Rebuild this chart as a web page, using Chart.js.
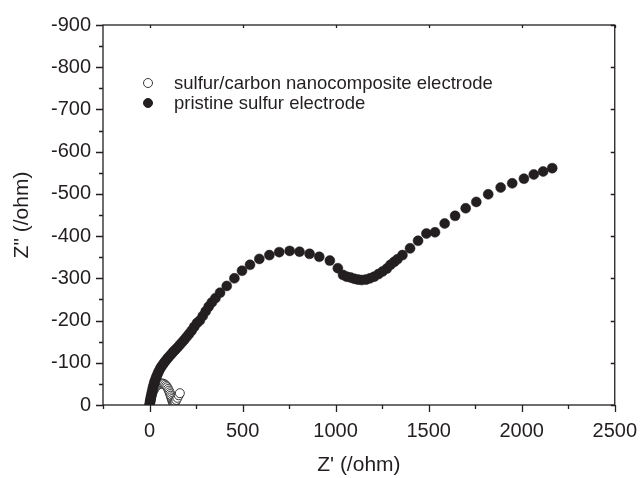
<!DOCTYPE html>
<html>
<head>
<meta charset="utf-8">
<script src="https://cdn.jsdelivr.net/npm/chart.js@4/dist/chart.umd.min.js"></script>
<style>
  html, body { margin: 0; padding: 0; background: #fff; }
  #wrap { width: 643px; height: 478px; }
</style>
</head>
<body>
<div id="wrap"><canvas id="myChart"></canvas></div>
<script>
/* data: [Z', Z''] */
var nanoLabel = 'sulfur/carbon nanocomposite electrode';
var nanoPoints = [
  [2, 0], [4, -8], [8, -16], [12, -23], [17, -30], [23, -36], [30, -41], [38, -45],
  [46, -48], [54, -50], [62, -51], [70, -51], [77, -50], [84, -48], [90, -45],
  [95, -42], [100, -38], [104, -34], [108, -30], [111, -26], [114, -22], [117, -18],
  [120, -14], [123, -10], [126, -7], [129, -5], [132, -4], [135, -5], [139, -8],
  [144, -12], [150, -17], [157, -23], [163, -28]
];
var pristineLabel = 'pristine sulfur electrode';
var pristinePoints = [
  [0, 0], [2, -5], [4, -10], [6, -15], [8, -20], [11, -26], [14, -32], [17, -38],
  [20, -44], [24, -50], [28, -56], [33, -62], [38, -68], [44, -74], [50, -80],
  [57, -86], [64, -91], [72, -96], [80, -101], [89, -106], [98, -111], [108, -116],
  [118, -121], [128, -126], [139, -131], [150, -136], [162, -142], [174, -148],
  [186, -154], [199, -161], [212, -168], [226, -176], [240, -185], [255, -194],
  [270, -200], [286, -211], [302, -222], [318, -233], [335, -243], [354, -253],
  [379, -266], [415, -282], [456, -300], [497, -318], [540, -332], [590, -346],
  [644, -355], [697, -362], [753, -365], [806, -363], [860, -358], [912, -351],
  [969, -342], [1012, -324], [1040, -308], [1060, -304], [1080, -302], [1100, -299],
  [1120, -297], [1140, -296], [1163, -297], [1185, -300], [1207, -304], [1230, -310],
  [1252, -316], [1275, -323], [1295, -332], [1315, -339], [1332, -345], [1359, -355],
  [1400, -371], [1443, -389], [1488, -406], [1534, -409], [1586, -430], [1642, -448],
  [1699, -466], [1756, -481], [1820, -499], [1887, -515], [1949, -525], [2012, -536],
  [2065, -546], [2115, -553], [2164, -561]
];
var xTitle = "Z' (/ohm)";
var yTitle = 'Z" (/ohm)';
var xMin = -250, xMax = 2500, xMajor = 500, xMinor = 250;
var yMin = -900, yMax = 0, yMajor = 100, yMinor = 50;

var ink = '#231f20';
var fontFam = '"Liberation Sans", Arial, sans-serif';

function toXY(arr) {
  return arr.map((p) => ({ x: p[0], y: p[1] }));
}

/* frame + ticks: out on left/bottom, in on top/right */
var frameTicks = {
  id: 'frameTicks',
  afterDraw: function(chart) {
    var c = chart.ctx, a = chart.chartArea;
    var xs = chart.scales.x, ys = chart.scales.y;
    c.save();
    c.strokeStyle = ink;
    c.lineWidth = 1.3;
    c.strokeRect(a.left, a.top, a.right - a.left, a.bottom - a.top);
    c.beginPath();
    for (var v = xMin; v <= xMax + 1e-6; v += xMinor) {
      var px = Math.round(xs.getPixelForValue(v)) + 0.5;
      var big = v % xMajor === 0;
      c.moveTo(px, a.bottom); c.lineTo(px, a.bottom + (big ? 7 : 4));
      c.moveTo(px, a.top); c.lineTo(px, a.top + (big ? 3 : 0));
    }
    for (var w = yMin; w <= yMax + 1e-6; w += yMinor) {
      var py = Math.round(ys.getPixelForValue(w)) + 0.5;
      var big2 = w % yMajor === 0;
      c.moveTo(a.left, py); c.lineTo(a.left - (big2 ? 7 : 4), py);
      c.moveTo(a.right, py); c.lineTo(a.right - (big2 ? 4 : 0), py);
    }
    c.stroke();
    c.restore();
  }
};

/* legend inside the plot, upper left */
var innerLegend = {
  id: 'innerLegend',
  afterDraw: function(chart) {
    var c = chart.ctx, a = chart.chartArea;
    c.save();
    c.font = '18.5px ' + fontFam;
    c.textBaseline = 'middle';
    c.fillStyle = ink;
    chart.data.datasets.slice().sort((p, q) => q.order - p.order).forEach((ds, i) => {
      var y = a.top + 58 + i * 20;
      var x = a.left + 45;
      c.beginPath();
      c.arc(x, y, 4.5, 0, Math.PI * 2);
      c.fillStyle = ds.pointBackgroundColor;
      c.fill();
      c.lineWidth = 1;
      c.strokeStyle = ds.pointBorderColor;
      c.stroke();
      c.fillStyle = ink;
      c.fillText(ds.label, a.left + 71, y + 1);
    });
    c.restore();
  }
};

var ctx = document.getElementById('myChart').getContext('2d');
var myChart = new Chart(ctx, {
  type: 'scatter',
  data: {
    datasets: [
      {
        label: pristineLabel,
        data: toXY(pristinePoints),
        order: 1,
        pointRadius: 5,
        pointBackgroundColor: ink,
        pointBorderColor: ink,
        pointBorderWidth: 0.5,
        showLine: false
      },
      {
        label: nanoLabel,
        data: toXY(nanoPoints),
        order: 2,
        pointRadius: 4.5,
        pointBackgroundColor: '#ffffff',
        pointBorderColor: '#3a3a3a',
        pointBorderWidth: 1,
        showLine: false
      }
    ]
  },
  options: {
    responsive: true,
    maintainAspectRatio: false,
    animation: false,
    layout: { padding: { top: 25, right: 26, left: 6, bottom: 0 } },
    plugins: {
      legend: { display: false },
      tooltip: { enabled: false }
    },
    scales: {
      x: {
        type: 'linear',
        min: xMin,
        max: xMax,
        grid: { display: false },
        border: { display: false },
        ticks: {
          stepSize: xMinor,
          autoSkip: false,
          maxRotation: 0,
          color: ink,
          padding: 6,
          font: { family: fontFam, size: 20 },
          callback: (v) => (v % xMajor === 0 ? String(v) : '')
        },
        title: {
          display: true,
          text: xTitle,
          color: ink,
          padding: { top: 4, bottom: 0 },
          font: { family: fontFam, size: 21 }
        },
        afterFit: (s) => { s.height = 73; }
      },
      y: {
        type: 'linear',
        min: yMin,
        max: yMax,
        reverse: true,
        grid: { display: false },
        border: { display: false },
        ticks: {
          stepSize: yMajor,
          autoSkip: false,
          color: ink,
          padding: 4,
          font: { family: fontFam, size: 20 },
          callback: (v) => String(v)
        },
        title: {
          display: true,
          text: yTitle,
          color: ink,
          font: { family: fontFam, size: 21 }
        },
        afterFit: (s) => { s.width = 97; }
      }
    }
  },
  plugins: [frameTicks, innerLegend]
});
</script>
</body>
</html>
